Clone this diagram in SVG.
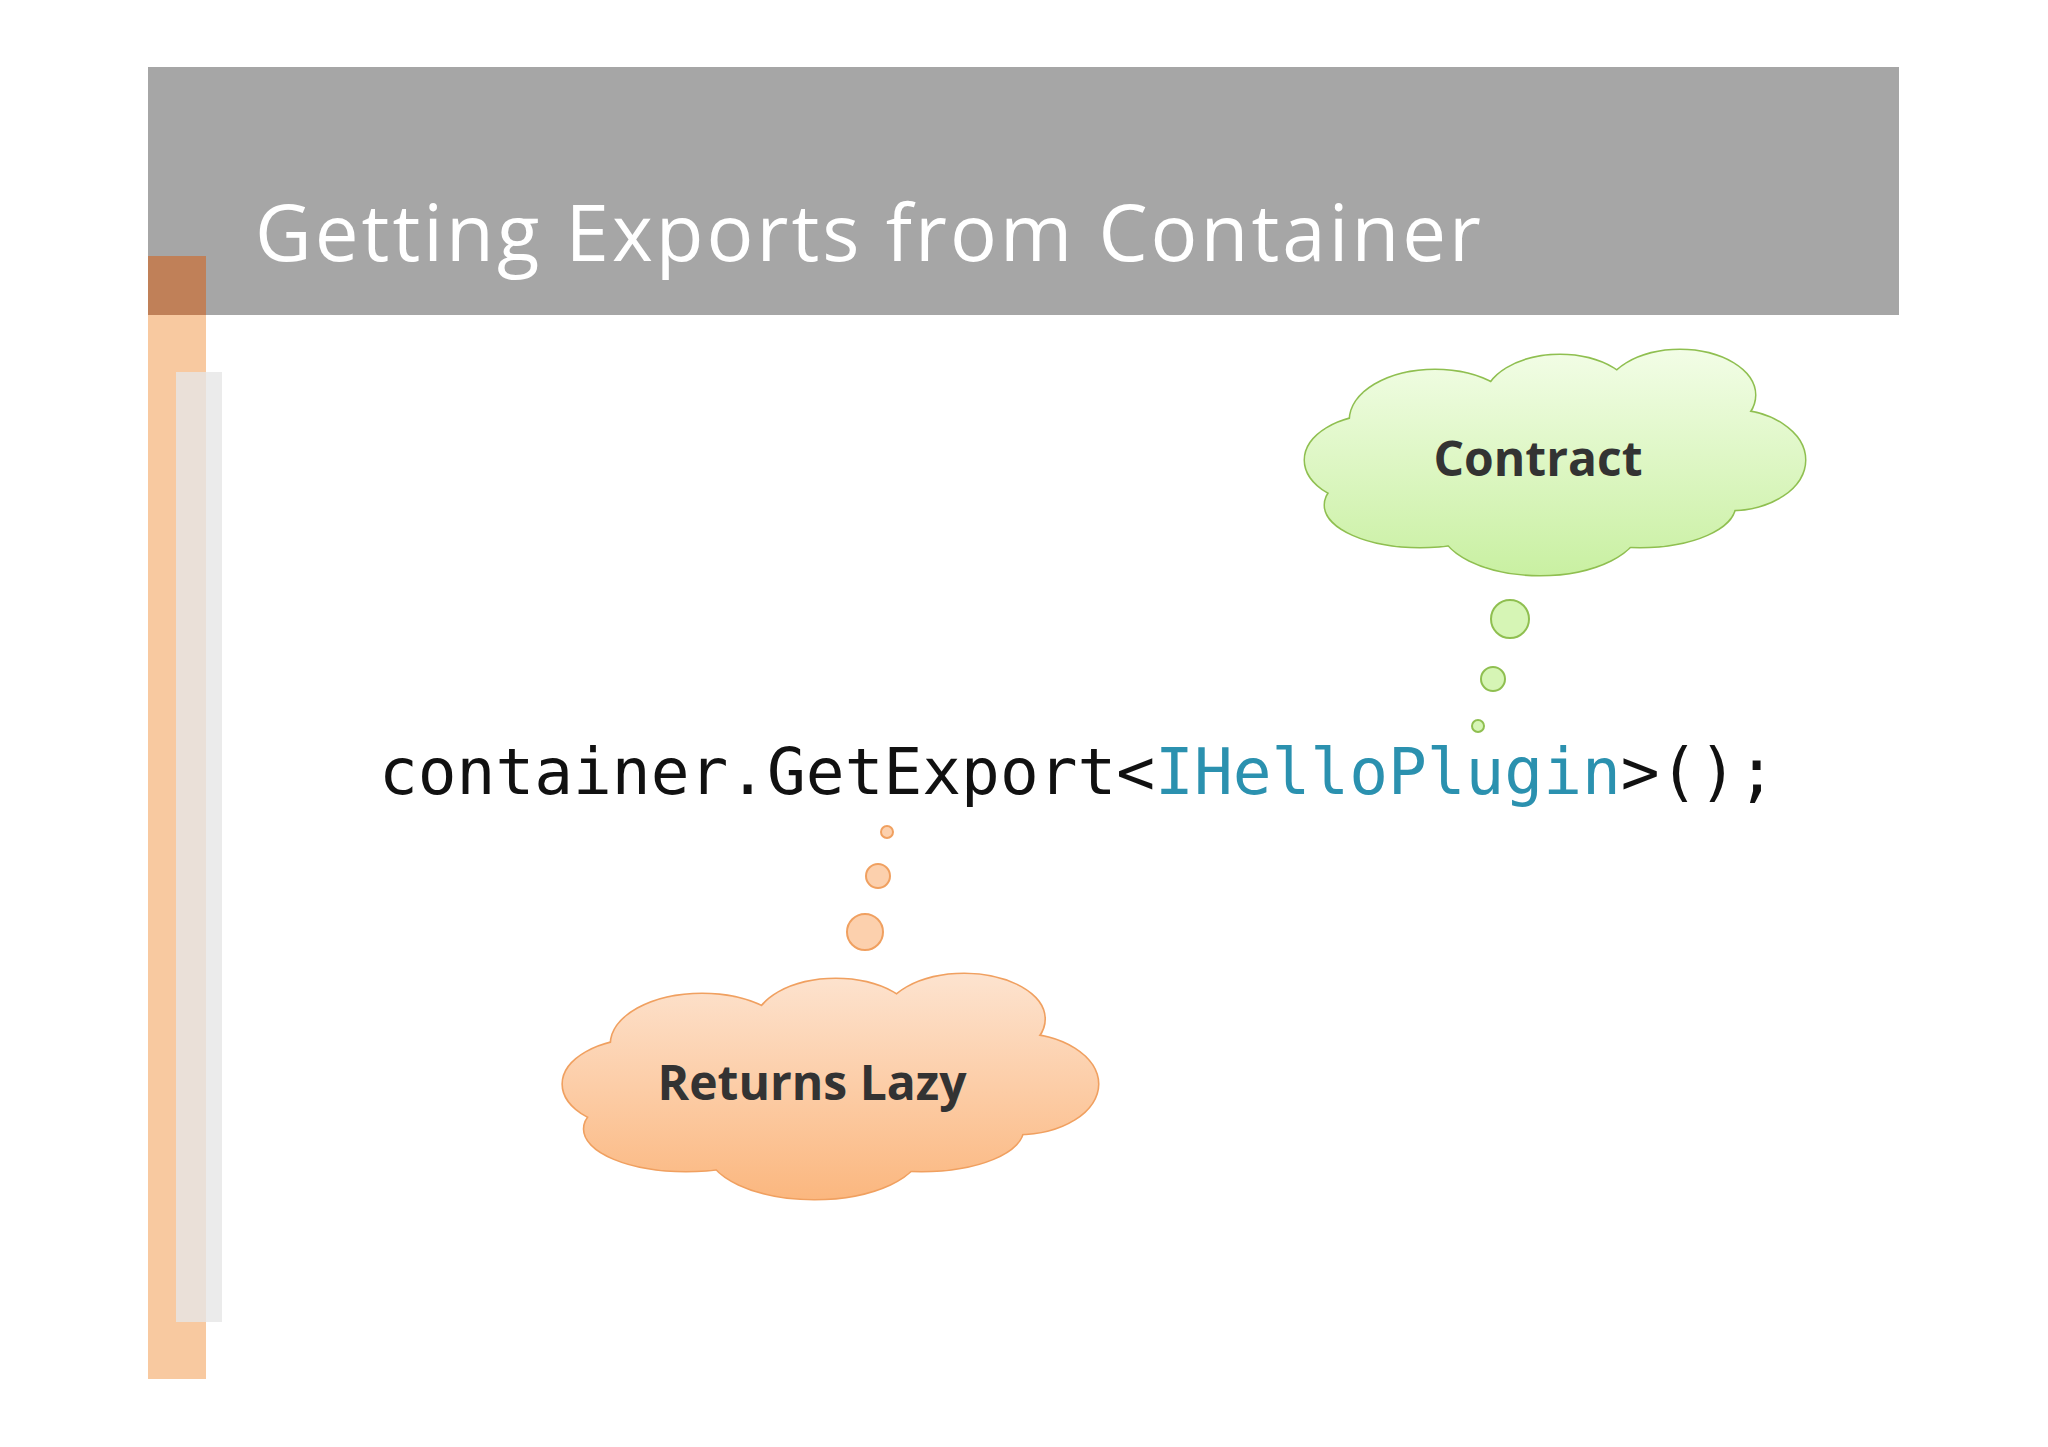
<svg xmlns="http://www.w3.org/2000/svg" width="2048" height="1447" viewBox="0 0 2048 1447">
<style>
.title{font-family:"Open Sans","DejaVu Sans",sans-serif;font-size:78px;fill:#fff}
.code{font-family:"DejaVu Sans Mono","Liberation Mono",monospace;font-size:64px;fill:#111}
.lbl{font-family:"Open Sans","Liberation Sans",sans-serif;font-weight:bold;font-size:48px;fill:#333;text-anchor:middle}
</style>
<defs>
<g id="lobes">
<ellipse cx="74" cy="110" rx="75" ry="45"/><ellipse cx="129" cy="70" rx="85" ry="50"/>
<ellipse cx="254" cy="50" rx="75" ry="45"/><ellipse cx="374" cy="45" rx="75" ry="45"/>
<ellipse cx="424" cy="110" rx="75" ry="50"/><ellipse cx="334" cy="155" rx="95" ry="42"/>
<ellipse cx="234" cy="175" rx="100" ry="50"/><ellipse cx="114" cy="155" rx="95" ry="42"/>
<ellipse cx="249" cy="110" rx="200" ry="70"/>
</g>
<linearGradient id="gG" gradientUnits="userSpaceOnUse" x1="0" y1="0" x2="0" y2="225"><stop offset="0" stop-color="#f2fde6"/><stop offset="1" stop-color="#c9f0a2"/></linearGradient>
<linearGradient id="gO" gradientUnits="userSpaceOnUse" x1="0" y1="0" x2="0" y2="225"><stop offset="0" stop-color="#fde3cf"/><stop offset="1" stop-color="#fbb77f"/></linearGradient>
</defs>
<rect width="2048" height="1447" fill="#fff"/>
<rect x="148" y="67" width="1751" height="248" fill="#a6a6a6"/>
<rect x="148" y="256" width="58" height="1123" fill="#f8c9a0"/>
<rect x="148" y="256" width="58" height="59" fill="#c08058"/>
<rect x="176" y="372" width="46" height="950" fill="#e6e6e6" opacity="0.8"/>
<text class="title" x="255" y="261" textLength="1226" lengthAdjust="spacing">Getting Exports from Container</text>
<text class="code" x="379" y="794" textLength="1397" lengthAdjust="spacingAndGlyphs">container.GetExport&lt;<tspan fill="#2b91af">IHelloPlugin</tspan>&gt;();</text>
<g id="contract">
<g transform="translate(1306,350)">
<use href="#lobes" fill="none" stroke="#8fbf50" stroke-width="3"/>
<use href="#lobes" fill="url(#gG)"/>
</g>
<text class="lbl" x="1538" y="476">Contract</text>
<g fill="#d6f5b5" stroke="#8fbf50" stroke-width="2">
<circle cx="1510" cy="619" r="19"/><circle cx="1493" cy="679" r="12"/><circle cx="1478" cy="726" r="6"/></g>
</g>
<g id="lazy">
<g transform="translate(564,974) scale(1.07,1)">
<use href="#lobes" fill="none" stroke="#f0a060" stroke-width="3"/>
<use href="#lobes" fill="url(#gO)"/>
</g>
<text class="lbl" x="812" y="1100">Returns Lazy</text>
<g fill="#fcd0ad" stroke="#f0a060" stroke-width="2">
<circle cx="887" cy="832" r="6"/><circle cx="878" cy="876" r="12"/><circle cx="865" cy="932" r="18"/></g>
</g>
<g id="connectors"/>
</svg>
